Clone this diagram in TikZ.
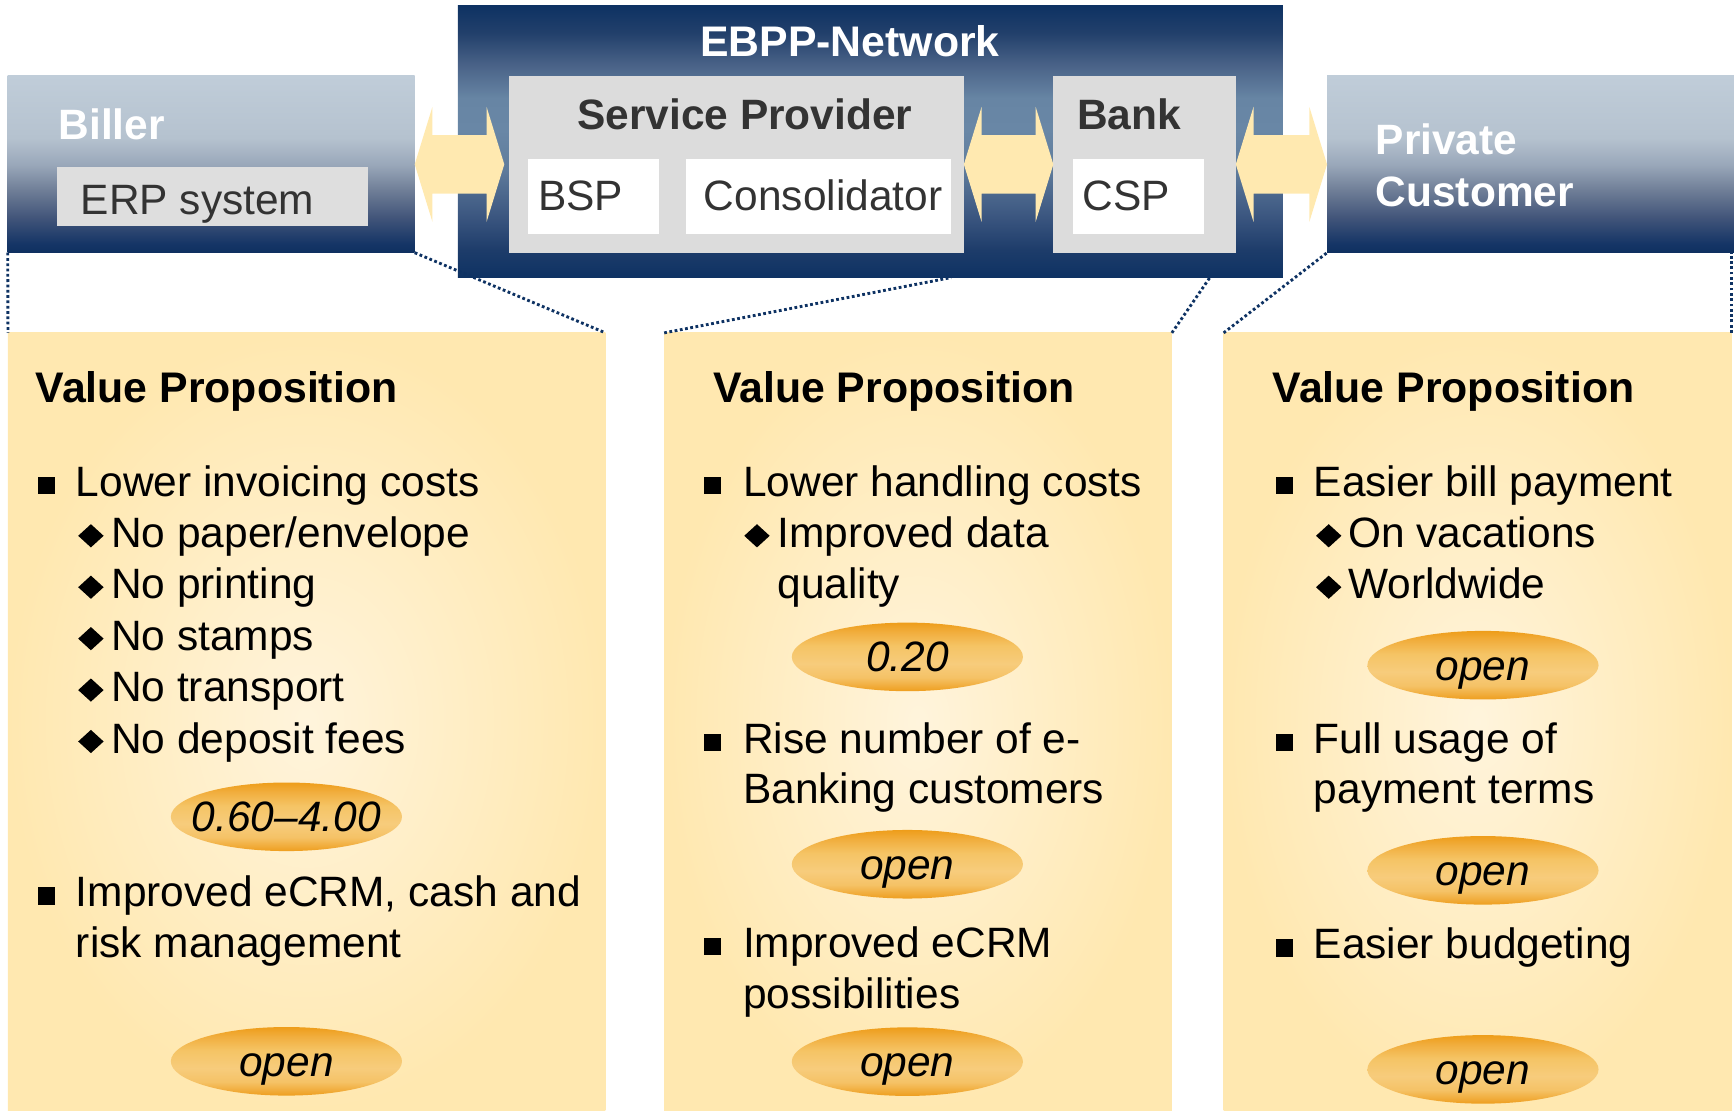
\documentclass[tikz,border=0pt]{standalone}
\usepackage{fontspec}
\setmainfont{Liberation Sans}
\usetikzlibrary{shapes.geometric,calc}
\definecolor{navy}{HTML}{0E3263}
\definecolor{sa}{HTML}{0E3060}
\definecolor{sb}{HTML}{153566}
\definecolor{sc}{HTML}{42557A}
\definecolor{sd}{HTML}{6E7D96}
\definecolor{se}{HTML}{9AA8BA}
\definecolor{sf}{HTML}{B5C2CF}
\definecolor{sg}{HTML}{C0CDD9}
\definecolor{na}{HTML}{0E3263}
\definecolor{nb}{HTML}{1D3C6A}
\definecolor{nc}{HTML}{3A557F}
\definecolor{nd}{HTML}{5F7C9C}
\definecolor{ne}{HTML}{6987A6}
\definecolor{nf}{HTML}{6785A4}
\definecolor{ng}{HTML}{4A6388}
\definecolor{nh}{HTML}{22406B}
\definecolor{oa}{HTML}{EE9E1E}
\definecolor{ob}{HTML}{F0A935}
\definecolor{oc}{HTML}{F5C266}
\definecolor{od}{HTML}{F7CC7C}
\definecolor{oe}{HTML}{F5C465}
\definecolor{of}{HTML}{F1AE3E}
\definecolor{og}{HTML}{EE9D1A}
\definecolor{yel}{HTML}{FFE8B0}
\definecolor{yelL}{HTML}{FFF4DC}
\definecolor{arrcol}{HTML}{FFE9B0}
\definecolor{boxgrey}{HTML}{DCDCDC}
\definecolor{erpgrey}{HTML}{DEDEDE}
\definecolor{darktxt}{HTML}{333333}
\pgfdeclareverticalshading{sideshade}{100bp}{color(0bp)=(sa); color(25bp)=(sa); color(27.5bp)=(sb); color(35bp)=(sc); color(42.5bp)=(sd); color(50bp)=(se); color(57.5bp)=(sf); color(75bp)=(sg); color(100bp)=(sg)}
\pgfdeclareverticalshading{netshade}{100bp}{color(0bp)=(na); color(25bp)=(na); color(30bp)=(nb); color(36bp)=(nc); color(45bp)=(nd); color(52bp)=(ne); color(58bp)=(nf); color(64bp)=(ng); color(70bp)=(nh); color(75bp)=(na); color(100bp)=(na)}
\pgfdeclareverticalshading{ovalshade}{100bp}{color(0bp)=(oa); color(25bp)=(oa); color(28bp)=(ob); color(35bp)=(oc); color(45bp)=(od); color(58bp)=(oe); color(68bp)=(of); color(75bp)=(og); color(100bp)=(og)}
\newcommand\sqbul[2]{\fill (#1,#2-17.5) rectangle ++(15.5,15.5);}
\newcommand\dmdbul[2]{\fill (#1,#2-10.5) -- ++(11.5,-10.5) -- ++(11.5,10.5) -- ++(-11.5,10.5) -- cycle;}
\newcommand\dblarr[3]{\fill[arrcol] let \p1=(#1.east), \p2=(#2.west) in
  (\x1,\y1) -- (\x1+16pt,\y1+52pt) -- (\x1+16pt,\y1+26.5pt) -- (\x2-#3pt-16pt,\y1+26.5pt) -- (\x2-#3pt-16pt,\y1+52pt) -- (\x2-#3pt,\y1)
  -- (\x2-#3pt-16pt,\y1-52pt) -- (\x2-#3pt-16pt,\y1-26.5pt) -- (\x1+16pt,\y1-26.5pt) -- (\x1+16pt,\y1-52pt) -- cycle;}
\begin{document}
\begin{tikzpicture}[x=1pt,y=-1pt,
  boxnode/.style={rectangle, anchor=north west, inner sep=0pt, outer sep=0pt, draw=none},
  panel/.style={boxnode, inner color=yelL, outer color=yel, minimum height=703pt},
  dotline/.style={draw=navy, line width=2.6pt, dash pattern=on 2.5pt off 2.3pt},
  bodytext/.style={anchor=base west, inner sep=0pt, outer sep=0pt, font=\fontsize{38.4}{44}\selectfont, text=black},
  headtext/.style={bodytext, font=\fontsize{38.7}{44}\selectfont\bfseries},
  boxtext/.style={anchor=base west, inner sep=0pt, outer sep=0pt, font=\fontsize{38.4}{46}\selectfont, text=darktxt},
  boxhead/.style={boxtext, font=\fontsize{38.4}{46}\selectfont\bfseries},
  whitehead/.style={boxhead, text=white},
  oval/.style={ellipse, inner sep=0pt, outer sep=0pt, minimum width=209pt, minimum height=62pt, shade, shading=ovalshade, draw=none},
  valtext/.style={anchor=base, inner sep=0pt, outer sep=0pt, font=\fontsize{38.4}{46}\selectfont\itshape, text=black}]
\useasboundingbox (0,0) rectangle (1568,1004);

% panels
\node[panel, minimum width=540.3pt] (pl) at (7.2,301) {};
\node[panel, minimum width=459.1pt] (pm) at (600.6,301) {};
\node[panel, minimum width=459.5pt] (pr) at (1106.5,301) {};

% top boxes
\node[boxnode, shade, shading=sideshade, minimum width=368pt, minimum height=159.8pt] (biller) at (7,68.7) {};
\node[boxnode, shade, shading=sideshade, minimum width=368pt, minimum height=159.8pt] (private) at (1200,68.7) {};
\node[boxnode, shade, shading=netshade, minimum width=746pt, minimum height=245.4pt] (ebpp) at (414,5.4) {};

% dotted connectors
\coordinate (m1) at (860,251);
\coordinate (m2) at (1094,251);
\draw[dotline] (biller.south west) -- (pl.north west);
\draw[dotline] (biller.south east) -- (pl.north east);
\draw[dotline] (pm.north west) -- (m1);
\draw[dotline] (pm.north east) -- (m2);
\draw[dotline] (pr.north west) -- (private.south west);
\draw[dotline] (pr.north east) -- (pr.north east |- private.south);

% inner boxes
\node[boxnode, fill=boxgrey, minimum width=411.6pt, minimum height=159.8pt] (sp) at (460,68.7) {};
\node[boxnode, fill=boxgrey, minimum width=165pt, minimum height=159.8pt] (bank) at (952.5,68.7) {};
\node[boxnode, fill=white, minimum width=118.4pt, minimum height=67.5pt] (bsp) at (477.6,143.8) {};
\node[boxnode, fill=white, minimum width=240pt, minimum height=67.5pt] (cons) at (620,143.8) {};
\node[boxnode, fill=white, minimum width=118.6pt, minimum height=67.5pt] (csp) at (970,143.8) {};
\node[boxnode, fill=erpgrey, minimum width=280.6pt, minimum height=52.7pt] (erp) at (51.8,151.3) {};

% double arrows
\dblarr{biller}{sp}{4}
\dblarr{sp}{bank}{0}
\dblarr{bank}{private}{0}

% top texts
\node[whitehead, anchor=base, font=\fontsize{38.7}{46}\selectfont\bfseries] (tebpp) at (768.5,51.5) {EBPP-Network};
\node[boxhead] (tsp) at (522,117.5) {Service Provider};
\node[boxhead] (tbank) at (974,117.5) {Bank};
\node[boxtext] (tbsp) at (486.6,190.5) {BSP};
\node[boxtext] (tcons) at (636.5,190.5) {Consolidator};
\node[boxtext] (tcsp) at (979,190.5) {CSP};
\node[whitehead] (tbiller) at (53,126) {Biller};
\node[boxtext] (terp) at (73,194.4) {ERP system};
\node[whitehead] (tpriv) at (1244,140) {Private};
\node[whitehead] (tcust) at (1244,187) {Customer};

% left panel
\node[headtext] (lh) at (32.5,363.6) {Value Proposition};
\sqbul{34.5}{449}
\node[bodytext] (l1) at (68.6,449) {Lower invoicing costs};
\dmdbul{70.7}{495}
\node[bodytext] (l2) at (100.5,495) {No paper/envelope};
\dmdbul{70.7}{541.5}
\node[bodytext] (l3) at (100.5,541.5) {No printing};
\dmdbul{70.7}{588}
\node[bodytext] (l4) at (100.5,588) {No stamps};
\dmdbul{70.7}{634.5}
\node[bodytext] (l5) at (100.5,634.5) {No transport};
\dmdbul{70.7}{681}
\node[bodytext] (l6) at (100.5,681) {No deposit fees};
\node[oval] (le1) at (259,738.6) {};
\node[valtext] (le1t) at ($(le1.center)+(0,13.6)$) {0.60\textendash4.00};
\sqbul{34.5}{820}
\node[bodytext] (l7) at (68.6,820) {Improved eCRM, cash and};
\node[bodytext] (l8) at (68.6,866) {risk management};
\node[oval] (le2) at (259,959.7) {};
\node[valtext] (le2t) at ($(le2.center)+(0,13.6)$) {open};

% middle panel
\node[headtext] (mh) at (645,363.6) {Value Proposition};
\sqbul{636.5}{449}
\node[bodytext] (m1t) at (672,449) {Lower handling costs};
\dmdbul{673}{495}
\node[bodytext] (m2t) at (703,495) {Improved data};
\node[bodytext] (m3t) at (703,541.5) {quality};
\node[oval] (me1) at (820.5,594) {};
\node[valtext] (me1t) at ($(me1.center)+(0,13.6)$) {0.20};
\sqbul{636.5}{681}
\node[bodytext] (m4t) at (672,681) {Rise number of e-};
\node[bodytext] (m5t) at (672,727) {Banking customers};
\node[oval] (me2) at (820.5,781.5) {};
\node[valtext] (me2t) at ($(me2.center)+(0,13.6)$) {open};
\sqbul{636.5}{866}
\node[bodytext] (m6t) at (672,866) {Improved eCRM};
\node[bodytext] (m7t) at (672,912) {possibilities};
\node[oval] (me3) at (820.5,960) {};
\node[valtext] (me3t) at ($(me3.center)+(0,13.6)$) {open};

% right panel
\node[headtext] (rh) at (1151,363.6) {Value Proposition};
\sqbul{1153.5}{449}
\node[bodytext] (r1) at (1188,449) {Easier bill payment};
\dmdbul{1190}{495}
\node[bodytext] (r2) at (1219,495) {On vacations};
\dmdbul{1190}{541.5}
\node[bodytext] (r3) at (1219,541.5) {Worldwide};
\node[oval] (re1) at (1341,601.5) {};
\node[valtext] (re1t) at ($(re1.center)+(0,13.6)$) {open};
\sqbul{1153.5}{681}
\node[bodytext] (r4) at (1188,681) {Full usage of};
\node[bodytext] (r5) at (1188,727) {payment terms};
\node[oval] (re2) at (1341,787) {};
\node[valtext] (re2t) at ($(re2.center)+(0,13.6)$) {open};
\sqbul{1153.5}{867}
\node[bodytext] (r6) at (1188,867) {Easier budgeting};
\node[oval] (re3) at (1341,967) {};
\node[valtext] (re3t) at ($(re3.center)+(0,13.6)$) {open};
\end{tikzpicture}
\end{document}
